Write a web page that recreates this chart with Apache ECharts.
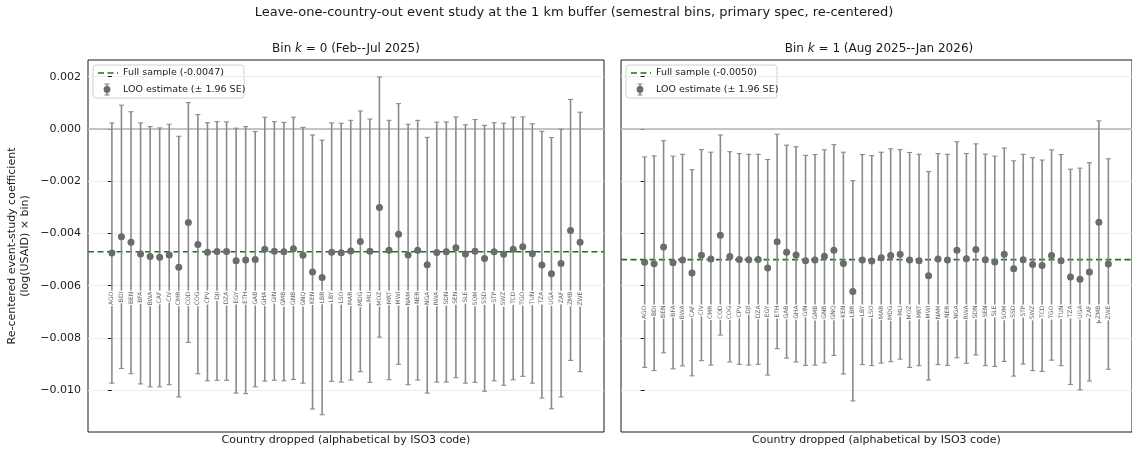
<!DOCTYPE html>
<html>
<head>
<meta charset="utf-8">
<script src="https://cdn.jsdelivr.net/npm/echarts@6/dist/echarts.min.js"></script>
<style>
  html, body { margin: 0; padding: 0; background: #fff; }
  #chart { width: 1132px; height: 452px; }
</style>
</head>
<body>
<div id="chart"></div>
<script>
// Leave-one-country-out estimates, one entry per dropped country (ISO3 order)
const countries = ['AGO','BDI','BEN','BFA','BWA','CAF','CIV','CMR','COD','COG','CPV','DJI','DZA','EGY','ETH','GAB','GHA','GIN','GMB','GNB','GNQ','KEN','LBR','LBY','LSO',
                   'MAR','MDG','MLI','MOZ','MRT','MWI','NAM','NER','NGA','RWA','SDN','SEN','SLE','SOM','SSD','STP','SWZ','TCD','TGO','TUN','TZA','UGA','ZAF','ZMB','ZWE'];

// Bin k = 0 (Feb--Jul 2025)
const est0 = [-0.00475,-0.00413,-0.00434,-0.00479,-0.00488,-0.00491,-0.00482,-0.00529,-0.00358,-0.00442,-0.00472,-0.00469,-0.00469,-0.00504,-0.00502,-0.00500,-0.00460,-0.00468,-0.00470,-0.00459,-0.00483,-0.00548,-0.00569,-0.00472,-0.00474,
              -0.00467,-0.00431,-0.00468,-0.00301,-0.00464,-0.00403,-0.00482,-0.00464,-0.00520,-0.00473,-0.00470,-0.00455,-0.00479,-0.00468,-0.00496,-0.00470,-0.00480,-0.00460,-0.00451,-0.00478,-0.00521,-0.00554,-0.00515,-0.00389,-0.00434];
const lo0  = [-0.00973,-0.00917,-0.00937,-0.00976,-0.00987,-0.00987,-0.00979,-0.01026,-0.00817,-0.00937,-0.00964,-0.00962,-0.00962,-0.01011,-0.01013,-0.00987,-0.00965,-0.00962,-0.00964,-0.00959,-0.00973,-0.01072,-0.01094,-0.00966,-0.00969,
              -0.00961,-0.00929,-0.00970,-0.00797,-0.00960,-0.00901,-0.00979,-0.00961,-0.01011,-0.00969,-0.00969,-0.00952,-0.00973,-0.00970,-0.01004,-0.00964,-0.00981,-0.00960,-0.00947,-0.00973,-0.01030,-0.01071,-0.01026,-0.00886,-0.00929];
const hi0  = [0.00023,0.00091,0.00066,0.00023,0.00009,0.00004,0.00018,-0.00028,0.00101,0.00055,0.00024,0.00028,0.00027,0.00003,0.00009,-0.00010,0.00045,0.00028,0.00025,0.00045,0.00006,-0.00023,-0.00043,0.00023,0.00022,
              0.00033,0.00069,0.00038,0.00199,0.00033,0.00097,0.00018,0.00033,-0.00032,0.00026,0.00027,0.00046,0.00016,0.00036,0.00014,0.00024,0.00022,0.00045,0.00046,0.00020,-0.00009,-0.00033,-0.00001,0.00113,0.00064];

// Bin k = 1 (Aug 2025--Jan 2026)
const est1 = [-0.00510,-0.00516,-0.00452,-0.00512,-0.00502,-0.00551,-0.00483,-0.00498,-0.00407,-0.00488,-0.00500,-0.00501,-0.00500,-0.00532,-0.00432,-0.00472,-0.00482,-0.00504,-0.00502,-0.00487,-0.00464,-0.00515,-0.00622,-0.00502,-0.00505,
              -0.00493,-0.00484,-0.00480,-0.00502,-0.00504,-0.00562,-0.00498,-0.00502,-0.00464,-0.00497,-0.00461,-0.00501,-0.00509,-0.00480,-0.00535,-0.00501,-0.00519,-0.00523,-0.00484,-0.00504,-0.00567,-0.00575,-0.00548,-0.00357,-0.00517];
const lo1  = [-0.00913,-0.00925,-0.00857,-0.00918,-0.00907,-0.00945,-0.00887,-0.00904,-0.00789,-0.00892,-0.00901,-0.00904,-0.00901,-0.00942,-0.00841,-0.00877,-0.00892,-0.00905,-0.00904,-0.00895,-0.00867,-0.00938,-0.01041,-0.00902,-0.00906,
              -0.00896,-0.00891,-0.00881,-0.00913,-0.00906,-0.00961,-0.00902,-0.00905,-0.00876,-0.00897,-0.00865,-0.00906,-0.00909,-0.00890,-0.00946,-0.00900,-0.00925,-0.00928,-0.00885,-0.00906,-0.00978,-0.00999,-0.00965,-0.00741,-0.00920];
const hi1  = [-0.00107,-0.00103,-0.00045,-0.00104,-0.00097,-0.00156,-0.00079,-0.00089,-0.00023,-0.00087,-0.00094,-0.00097,-0.00097,-0.00117,-0.00020,-0.00062,-0.00068,-0.00101,-0.00098,-0.00080,-0.00060,-0.00089,-0.00198,-0.00098,-0.00102,
              -0.00089,-0.00076,-0.00079,-0.00090,-0.00097,-0.00163,-0.00094,-0.00097,-0.00049,-0.00094,-0.00057,-0.00096,-0.00104,-0.00073,-0.00122,-0.00097,-0.00110,-0.00119,-0.00080,-0.00098,-0.00154,-0.00150,-0.00129,0.00031,-0.00114];

// Full-sample coefficient per bin
const fullSample = [-0.0047, -0.0050];

const panelTitles = [
  ['Bin ', 'k', ' = 0 (Feb--Jul 2025)'],
  ['Bin ', 'k', ' = 1 (Aug 2025--Jan 2026)']
];
const yTicks = [-0.010, -0.008, -0.006, -0.004, -0.002, 0.000, 0.002];

const FONT = 'DejaVu Sans';
const BAR = '#8a8a8a';
const DOT = '#6b6b6b';
const GREEN = '#117a11';
const Y_MIN = -0.0116, Y_MAX = 0.00264;
const X_MIN = -2.5, X_MAX = countries.length + 1.5;

const chart = echarts.init(document.getElementById('chart'), null, { renderer: 'canvas' });

const gridLeft = [88, 621];
const gridW = 516;

function fmtTick(v) {
  const s = Math.abs(v).toFixed(3);
  return (v < -1e-12 ? '\u2212' : '') + s;
}

const panels = [
  { est: est0, lo: lo0, hi: hi0 },
  { est: est1, lo: lo1, hi: hi1 }
];

const grids = [], xAxes = [], yAxes = [], series = [], graphics = [];

function hLine(k, y, style, z) {
  return {
    type: 'line', xAxisIndex: k, yAxisIndex: k, silent: true, z: z,
    symbol: 'none', showSymbol: false,
    lineStyle: style,
    data: [[X_MIN, y], [X_MAX, y]]
  };
}

panels.forEach((p, k) => {
  grids.push({
    left: gridLeft[k], top: 60, width: gridW, height: 372,
    show: true, borderColor: '#1a1a1a', borderWidth: 1, backgroundColor: '#fff'
  });
  xAxes.push({
    type: 'value', gridIndex: k, min: X_MIN, max: X_MAX,
    axisLine: { show: false }, axisTick: { show: false }, axisLabel: { show: false },
    splitLine: { show: false },
    name: 'Country dropped (alphabetical by ISO3 code)',
    nameLocation: 'middle', nameGap: 3,
    nameTextStyle: { fontFamily: FONT, fontSize: 11, color: '#1a1a1a' }
  });
  yAxes.push({
    type: 'value', gridIndex: k, min: Y_MIN, max: Y_MAX, splitNumber: 7,
    axisLine: { show: false },
    axisTick: { show: true, length: 4, customValues: yTicks, lineStyle: { color: '#1a1a1a', width: 1 } },
    axisLabel: { show: k === 0, customValues: yTicks, formatter: fmtTick, margin: 7,
                 fontFamily: FONT, fontSize: 11, color: '#1a1a1a' },
    splitLine: { show: true, lineStyle: { color: '#ececec', width: 1 } },
    name: k === 0 ? 'Re-centered event-study coefficient\n(log(USAID) \u00d7 bin)' : '',
    nameLocation: 'middle', nameRotate: 90, nameGap: 56,
    nameTextStyle: { fontFamily: FONT, fontSize: 11, color: '#1a1a1a', lineHeight: 13 }
  });

  // zero reference line and full-sample dashed line
  series.push(hLine(k, 0, { color: '#b3b3b3', width: 1.4, type: 'solid' }, 1));
  series.push(hLine(k, fullSample[k], { color: GREEN, width: 1.6, type: [6, 3.5] }, 2));

  // error bars (± 1.96 SE) with caps
  series.push({
    type: 'custom', xAxisIndex: k, yAxisIndex: k, z: 3, silent: true,
    data: countries.map((c, i) => [i, p.lo[i], p.hi[i]]),
    encode: { x: 0, y: [1, 2] },
    renderItem(params, api) {
      const x = api.value(0);
      const a = api.coord([x, api.value(1)]);
      const b = api.coord([x, api.value(2)]);
      const cap = 2.5;
      const st = { stroke: BAR, lineWidth: 1.6 };
      const cs = { stroke: BAR, lineWidth: 1.1 };
      return {
        type: 'group',
        children: [
          { type: 'line', shape: { x1: a[0], y1: a[1], x2: b[0], y2: b[1] }, style: st },
          { type: 'line', shape: { x1: a[0] - cap, y1: a[1], x2: a[0] + cap, y2: a[1] }, style: cs },
          { type: 'line', shape: { x1: b[0] - cap, y1: b[1], x2: b[0] + cap, y2: b[1] }, style: cs }
        ]
      };
    }
  });

  // point estimates
  series.push({
    type: 'scatter', xAxisIndex: k, yAxisIndex: k, z: 4, silent: true,
    name: 'LOO estimate (\u00b1 1.96 SE)',
    symbol: 'circle', symbolSize: 7,
    itemStyle: { color: DOT, opacity: 1 },
    data: countries.map((c, i) => [i, p.est[i]])
  });

  // country code labels, placed below the lowest estimate of the panel
  const labelY = Math.min(...p.est) - 0.0005;
  series.push({
    type: 'custom', xAxisIndex: k, yAxisIndex: k, z: 5, silent: true,
    data: countries.map((c, i) => [i, labelY]),
    encode: { x: 0, y: 1 },
    renderItem(params, api) {
      const pt = api.coord([api.value(0), api.value(1)]);
      return {
        type: 'text', x: pt[0], y: pt[1], rotation: Math.PI / 2,
        style: {
          text: countries[params.dataIndex],
          fontFamily: FONT, fontSize: 6, fill: '#666',
          align: 'right', verticalAlign: 'middle',
          backgroundColor: '#fff', padding: [0, 1, 0, 1]
        }
      };
    }
  });

  // panel title
  const cx = gridLeft[k] + gridW / 2;
  const t = panelTitles[k];
  graphics.push({
    type: 'text', x: cx, y: 49, z: 100,
    style: {
      text: '{n|' + t[0] + '}{i|' + t[1] + '}{n|' + t[2] + '}',
      align: 'center', verticalAlign: 'middle',
      rich: {
        n: { fontFamily: FONT, fontSize: 12, fill: '#1a1a1a' },
        i: { fontFamily: FONT, fontSize: 12, fontStyle: 'italic', fill: '#1a1a1a' }
      }
    }
  });

  // legend box
  const lx = gridLeft[k] + 5, ly = 65;
  const ex = lx + 14;
  graphics.push({
    type: 'group', z: 100,
    children: [
      { type: 'rect', shape: { x: lx, y: ly, width: 151, height: 33, r: 3 },
        style: { fill: 'rgba(255,255,255,0.85)', stroke: '#d0d0d0', lineWidth: 1 } },
      { type: 'line', shape: { x1: lx + 5, y1: ly + 8, x2: lx + 25, y2: ly + 8 },
        style: { stroke: GREEN, lineWidth: 1.6, lineDash: [6, 3.5] } },
      { type: 'text', x: lx + 30, y: ly + 8,
        style: { text: 'Full sample (' + fullSample[k].toFixed(4) + ')', fontFamily: FONT, fontSize: 9.5,
                 fill: '#1a1a1a', align: 'left', verticalAlign: 'middle' } },
      { type: 'line', shape: { x1: ex, y1: ly + 19, x2: ex, y2: ly + 30 }, style: { stroke: BAR, lineWidth: 1.6 } },
      { type: 'line', shape: { x1: ex - 2.5, y1: ly + 19, x2: ex + 2.5, y2: ly + 19 }, style: { stroke: BAR, lineWidth: 1.1 } },
      { type: 'line', shape: { x1: ex - 2.5, y1: ly + 30, x2: ex + 2.5, y2: ly + 30 }, style: { stroke: BAR, lineWidth: 1.1 } },
      { type: 'circle', shape: { cx: ex, cy: ly + 24.5, r: 3.4 }, style: { fill: DOT } },
      { type: 'text', x: lx + 30, y: ly + 24.5,
        style: { text: 'LOO estimate (\u00b1 1.96 SE)', fontFamily: FONT, fontSize: 9.5,
                 fill: '#1a1a1a', align: 'left', verticalAlign: 'middle' } }
    ]
  });
});

// figure title
graphics.push({
  type: 'text', x: 574, y: 13, z: 100,
  style: {
    text: 'Leave-one-country-out event study at the 1 km buffer (semestral bins, primary spec, re-centered)',
    fontFamily: FONT, fontSize: 13, fill: '#1a1a1a', align: 'center', verticalAlign: 'middle'
  }
});

chart.setOption({
  animation: false,
  backgroundColor: '#fff',
  textStyle: { fontFamily: FONT },
  grid: grids,
  xAxis: xAxes,
  yAxis: yAxes,
  series: series,
  graphic: { elements: graphics }
});
</script>
</body>
</html>
